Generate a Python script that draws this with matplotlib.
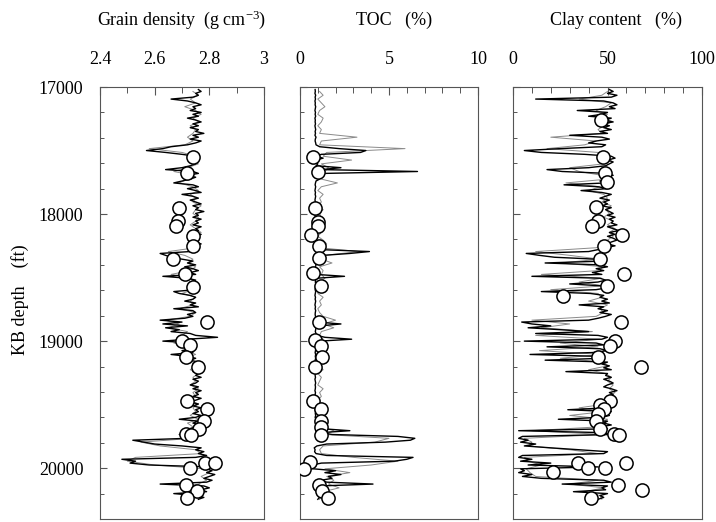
import numpy as np
import matplotlib
matplotlib.use("Agg")
import matplotlib.pyplot as plt
from matplotlib.ticker import MultipleLocator, FixedLocator, FixedFormatter

plt.rcParams['font.family'] = ['Liberation Serif', 'DejaVu Serif']
plt.rcParams['mathtext.fontset'] = 'custom'
plt.rcParams['mathtext.rm'] = 'Liberation Serif'
plt.rcParams['mathtext.default'] = 'regular'

# ---------------- data ----------------
# continuous logs (black), sampled every 15 ft from 17020 ft
log_top = 17020
log_step = 15
grain_log = [
    2.76, 2.77, 2.75, 2.76, 2.74, 2.66, 2.72, 2.75, 2.77, 2.74,
    2.75, 2.73, 2.77, 2.74, 2.76, 2.72, 2.75, 2.77, 2.74, 2.76,
    2.73, 2.76, 2.75, 2.78, 2.74, 2.76, 2.73, 2.77, 2.75, 2.72,
    2.66, 2.63, 2.57, 2.64, 2.70, 2.75, 2.73, 2.76, 2.74, 2.75,
    2.73, 2.70, 2.64, 2.74, 2.76, 2.72, 2.75, 2.73, 2.70, 2.67,
    2.74, 2.76, 2.72, 2.75, 2.77, 2.70, 2.74, 2.76, 2.73, 2.75,
    2.77, 2.74, 2.76, 2.75, 2.78, 2.75, 2.76, 2.74, 2.77, 2.75,
    2.76, 2.74, 2.77, 2.75, 2.76, 2.74, 2.77, 2.75, 2.73, 2.76,
    2.75, 2.77, 2.74, 2.76, 2.75, 2.73, 2.62, 2.64, 2.66, 2.70,
    2.74, 2.72, 2.75, 2.71, 2.74, 2.76, 2.73, 2.75, 2.63, 2.72,
    2.75, 2.73, 2.76, 2.74, 2.72, 2.75, 2.67, 2.69, 2.73, 2.75,
    2.74, 2.71, 2.75, 2.73, 2.76, 2.67, 2.74, 2.75, 2.72, 2.74,
    2.71, 2.62, 2.70, 2.63, 2.72, 2.64, 2.69, 2.66, 2.73, 2.75,
    2.83, 2.72, 2.63, 2.74, 2.71, 2.75, 2.73, 2.70, 2.74, 2.66,
    2.72, 2.75, 2.73, 2.76, 2.74, 2.76, 2.75, 2.77, 2.74, 2.76,
    2.75, 2.77, 2.74, 2.76, 2.75, 2.73, 2.76, 2.74, 2.77, 2.75,
    2.76, 2.74, 2.77, 2.75, 2.73, 2.76, 2.74, 2.77, 2.75, 2.76,
    2.74, 2.77, 2.75, 2.69, 2.76, 2.74, 2.77, 2.75, 2.73, 2.76,
    2.74, 2.69, 2.76, 2.72, 2.52, 2.56, 2.60, 2.70, 2.77, 2.75,
    2.78, 2.76, 2.79, 2.75, 2.48, 2.53, 2.51, 2.58, 2.80, 2.79,
    2.81, 2.79, 2.82, 2.80, 2.78, 2.81, 2.79, 2.62, 2.78, 2.80,
    2.77, 2.79, 2.67, 2.75, 2.78, 2.76,
]
toc_log = [
    0.85, 0.86, 0.84, 0.88, 0.85, 0.87, 0.84, 0.86, 0.85, 0.88,
    0.86, 0.84, 0.87, 0.85, 0.88, 0.84, 0.86, 0.85, 0.87, 0.84,
    0.86, 0.88, 0.85, 0.87, 0.84, 0.90, 0.86, 0.85, 0.88, 0.90,
    1.10, 2.20, 3.70, 3.40, 1.20, 0.90, 1.30, 0.88, 0.86, 1.00,
    0.90, 2.30, 1.20, 6.60, 1.40, 0.95, 0.88, 1.10, 0.90, 0.87,
    0.85, 0.88, 0.86, 0.84, 0.87, 0.85, 0.88, 0.86, 0.84, 0.87,
    0.85, 0.88, 0.86, 0.90, 0.85, 0.87, 0.84, 0.88, 0.86, 0.85,
    0.87, 0.84, 0.88, 0.86, 0.85, 0.87, 0.86, 0.90, 0.85, 0.88,
    0.86, 0.88, 0.85, 0.87, 1.20, 3.90, 2.80, 1.30, 0.95, 0.90,
    0.88, 0.86, 0.90, 0.87, 0.85, 0.88, 0.86, 0.90, 2.50, 0.95,
    0.88, 0.86, 0.90, 1.20, 0.87, 0.85, 0.88, 0.86, 0.84, 0.87,
    0.85, 0.88, 0.86, 0.84, 0.87, 0.85, 0.88, 0.86, 0.85, 0.87,
    0.88, 1.30, 0.95, 2.30, 1.10, 0.90, 0.88, 0.86, 0.90, 0.95,
    1.40, 2.90, 1.10, 0.90, 0.88, 0.86, 0.90, 0.87, 0.85, 0.88,
    0.86, 0.88, 0.85, 0.87, 0.86, 0.84, 0.87, 0.85, 0.88, 0.86,
    0.85, 0.87, 0.84, 0.86, 0.88, 0.85, 0.87, 0.86, 0.84, 0.87,
    0.85, 0.88, 0.86, 0.84, 0.87, 0.85, 0.88, 0.86, 0.85, 0.87,
    0.86, 0.88, 0.85, 0.90, 0.87, 0.95, 0.90, 1.10, 1.30, 2.80,
    1.20, 1.80, 5.50, 6.45, 6.20, 4.80, 1.50, 0.95, 0.80, 0.85,
    0.82, 0.90, 1.50, 6.35, 6.00, 5.30, 1.20, 0.70, 0.60, 0.75,
    2.00, 1.40, 2.30, 1.60, 1.80, 1.20, 1.50, 4.10, 1.10, 0.95,
    1.00, 1.10, 0.95, 1.05, 1.10, 1.00,
]
clay_log = [
    51, 53, 50, 55, 52, 12, 48, 53, 55, 51,
    54, 34, 50, 47, 40, 52, 49, 53, 47, 51,
    48, 52, 46, 50, 30, 47, 51, 44, 40, 49,
    47, 25, 6, 15, 38, 52, 54, 50, 53, 51,
    49, 40, 18, 26, 50, 53, 48, 51, 46, 49,
    27, 45, 50, 36, 47, 52, 49, 46, 51, 48,
    50, 47, 52, 49, 51, 53, 50, 54, 51, 53,
    52, 55, 50, 53, 56, 51, 54, 50, 53, 55,
    52, 50, 54, 49, 45, 40, 7, 14, 22, 44,
    48, 17, 46, 50, 44, 48, 42, 47, 10, 46,
    49, 45, 30, 47, 50, 44, 15, 41, 48, 46,
    50, 47, 51, 35, 48, 45, 50, 46, 52, 49,
    45, 40, 4.6, 10, 20, 8, 25, 40, 12, 45,
    50, 47, 6, 44, 48, 18, 46, 50, 42, 9,
    45, 48, 17, 50, 47, 51, 48, 52, 28, 50,
    49, 52, 48, 51, 53, 50, 48, 52, 55, 51,
    53, 50, 54, 52, 55, 51, 53, 50, 29, 52,
    49, 51, 47, 24, 50, 48, 52, 46, 50, 3,
    47, 52, 5, 3, 8, 4, 12, 6, 20, 35,
    50, 48, 5, 3, 10, 4, 20, 8, 45, 4,
    6, 3, 10, 5, 15, 48, 52, 26, 50, 47,
    49, 32, 50, 46, 48, 45,
]

# second (grey) log curves, sampled every 30 ft from 17035 ft
ref_top = 17035
ref_step = 30
grain_ref = [
    2.74, 2.76, 2.73, 2.75, 2.71, 2.75, 2.77, 2.74, 2.76, 2.73, 2.75, 2.74,
    2.72, 2.74, 2.71, 2.58, 2.70, 2.75, 2.73, 2.76, 2.72, 2.67, 2.74, 2.72,
    2.69, 2.74, 2.76, 2.73, 2.75, 2.74, 2.77, 2.75, 2.74, 2.76, 2.75, 2.73,
    2.75, 2.77, 2.74, 2.76, 2.73, 2.75, 2.65, 2.71, 2.74, 2.72, 2.75, 2.73,
    2.66, 2.73, 2.75, 2.72, 2.74, 2.70, 2.75, 2.73, 2.74, 2.69, 2.75, 2.73,
    2.64, 2.69, 2.65, 2.72, 2.70, 2.73, 2.67, 2.74, 2.72, 2.75, 2.70, 2.74,
    2.75, 2.73, 2.76, 2.74, 2.75, 2.73, 2.76, 2.74, 2.75, 2.73, 2.76, 2.74,
    2.75, 2.73, 2.76, 2.72, 2.74, 2.71, 2.76, 2.74, 2.55, 2.62, 2.75, 2.77,
    2.53, 2.50, 2.60, 2.78, 2.80, 2.77, 2.79, 2.76, 2.70, 2.78, 2.75, 2.74,
]
toc_ref = [
    1.1, 1.3, 1.0, 1.2, 1.4, 1.1, 1.0, 1.3, 1.2, 1.0, 1.2, 1.1,
    3.2, 1.2, 1.1, 5.9, 1.5, 1.3, 2.9, 1.2, 1.6, 1.4, 1.1, 1.2,
    2.1, 1.2, 1.0, 1.3, 1.1, 1.2, 1.0, 1.3, 1.1, 1.2, 1.0, 1.3,
    1.1, 1.2, 1.0, 1.3, 1.5, 1.1, 3.3, 1.4, 1.2, 1.8, 1.1, 1.3,
    1.2, 1.4, 1.1, 1.6, 1.2, 1.0, 1.3, 1.1, 1.2, 1.0, 1.1, 1.3,
    2.0, 1.3, 1.9, 1.2, 1.1, 1.3, 1.0, 1.2, 1.1, 1.3, 1.0, 1.2,
    1.1, 1.3, 1.0, 1.2, 1.1, 1.0, 1.3, 1.1, 1.2, 1.0, 1.1, 1.2,
    1.0, 1.2, 1.1, 1.3, 1.2, 1.9, 1.4, 5.0, 4.2, 1.3, 1.1, 1.2,
    3.0, 5.5, 4.0, 1.4, 2.8, 1.5, 1.9, 1.6, 2.2, 1.3, 1.2, 1.1,
]
clay_ref = [
    50, 47, 35, 52, 49, 44, 50, 46, 52, 48, 45, 47,
    20, 44, 38, 18, 45, 50, 52, 48, 30, 35, 47, 50,
    28, 46, 40, 48, 50, 47, 52, 49, 51, 48, 53, 50,
    54, 51, 53, 50, 48, 44, 12, 30, 46, 25, 48, 45,
    15, 47, 35, 48, 20, 45, 47, 40, 50, 46, 48, 44,
    10, 30, 15, 42, 12, 46, 25, 45, 14, 47, 25, 48,
    50, 40, 49, 52, 50, 53, 51, 54, 50, 52, 49, 35,
    48, 30, 50, 47, 45, 10, 48, 6, 10, 8, 30, 45,
    6, 8, 15, 7, 9, 12, 45, 30, 48, 38, 46, 47,
]

# core measurements (open circles)
core_depth_grain = [17549, 17680, 17950, 18055, 18092, 18171, 18252, 18357, 18472,
                    18572, 18848, 19000, 19031, 19123, 19202, 19472, 19538, 19630,
                    19688, 19732, 19740, 19963, 19963, 19997, 20134, 20181, 20231]
core_grain = [2.741, 2.720, 2.689, 2.687, 2.678, 2.739, 2.741, 2.666, 2.710,
              2.741, 2.793, 2.701, 2.729, 2.715, 2.759, 2.717, 2.790, 2.780,
              2.763, 2.715, 2.732, 2.784, 2.821, 2.729, 2.713, 2.754, 2.720]

core_depth_toc = [17549, 17672, 17950, 18060, 18092, 18165, 18252, 18349, 18467,
                  18567, 18848, 18992, 19037, 19123, 19202, 19472, 19538, 19630,
                  19675, 19735, 19955, 20003, 20134, 20181, 20231]
core_toc = [0.73, 1.01, 0.86, 1.01, 1.01, 0.60, 1.05, 1.05, 0.73,
            1.16, 1.05, 0.86, 1.16, 1.24, 0.86, 0.73, 1.16, 1.20,
            1.20, 1.20, 0.54, 0.22, 1.05, 1.24, 1.57]

core_depth_clay = [17260, 17554, 17675, 17751, 17948, 18055, 18092, 18165, 18249,
                   18354, 18470, 18567, 18643, 18848, 18997, 19037, 19123, 19202,
                   19472, 19504, 19535, 19570, 19627, 19688, 19732, 19740, 19963,
                   19963, 19995, 19995, 20029, 20134, 20173, 20231]
core_clay = [46.6, 47.6, 48.9, 49.6, 43.7, 45.0, 41.8, 57.8, 48.0,
             46.0, 58.9, 49.7, 26.6, 57.0, 54.0, 51.1, 45.0, 67.7,
             51.5, 46.2, 48.3, 45.1, 44.1, 46.0, 53.3, 56.1, 59.8,
             34.2, 39.9, 48.7, 21.0, 55.7, 68.0, 41.3]

titles = ["Grain density  (g cm$^{-3}$)", "TOC   (%)", "Clay content   (%)"]
xlims = [(2.4, 3.0), (0, 10), (0, 100)]
xmajor = [[2.4, 2.6, 2.8, 3.0], [0, 5, 10], [0, 50, 100]]
xmajor_labels = [["2.4", "2.6", "2.8", "3"], ["0", "5", "10"], ["0", "50", "100"]]
xminor = [0.1, 1, 10]
depth_ticks = [17000, 18000, 19000, 20000]
depth_labels = ["17000", "18000", "19000", "20000"]
depth_lim = (20400, 17000)

# ---------------- figure ----------------
W, H = 716, 522
fig = plt.figure(figsize=(W / 100, H / 100), dpi=100)

panel_px = [(100, 264), (300, 478), (513, 702)]
top_px, bot_px = 87, 519
title_x_px = [182, 394, 616]

log_depth = log_top + log_step * np.arange(len(grain_log))
ref_depth = ref_top + ref_step * np.arange(len(grain_ref))

logs = [grain_log, toc_log, clay_log]
refs = [grain_ref, toc_ref, clay_ref]
cores = [(core_grain, core_depth_grain), (core_toc, core_depth_toc), (core_clay, core_depth_clay)]

spine_col = '#555555'
for i, (l, r) in enumerate(panel_px):
    ax = fig.add_axes([l / W, 1 - bot_px / H, (r - l) / W, (bot_px - top_px) / H])
    ax.plot(refs[i], ref_depth, color='#8a8a8a', lw=0.7, zorder=1)
    ax.plot(logs[i], log_depth, color='black', lw=1.0, zorder=2)
    cv, cd = cores[i]
    ax.plot(cv, cd, linestyle='none', marker='o', ms=9.5, mfc='white', mec='black',
            mew=1.1, zorder=3)
    ax.set_xlim(*xlims[i])
    ax.set_ylim(*depth_lim)

    ax.xaxis.tick_top()
    ax.xaxis.set_major_locator(FixedLocator(xmajor[i]))
    ax.xaxis.set_major_formatter(FixedFormatter(xmajor_labels[i]))
    ax.xaxis.set_minor_locator(MultipleLocator(xminor[i]))
    ax.tick_params(axis='x', which='both', direction='in', top=True, bottom=False,
                   labeltop=True, labelbottom=False, labelsize=13, pad=14,
                   color=spine_col)
    ax.tick_params(axis='x', which='major', length=6, width=0.8)
    ax.tick_params(axis='x', which='minor', length=4, width=0.7)

    ax.yaxis.set_major_locator(FixedLocator(depth_ticks))
    ax.yaxis.set_minor_locator(MultipleLocator(200))
    ax.tick_params(axis='y', which='both', direction='in', left=True, right=False,
                   labelsize=13, pad=12, color=spine_col)
    ax.tick_params(axis='y', which='major', length=5, width=0.8)
    ax.tick_params(axis='y', which='minor', length=3, width=0.7)
    if i == 0:
        ax.yaxis.set_major_formatter(FixedFormatter(depth_labels))
    else:
        ax.tick_params(axis='y', which='both', labelleft=False)

    for s in ax.spines.values():
        s.set_color(spine_col)
        s.set_linewidth(0.8)

    fig.text(title_x_px[i] / W, 1 - 20 / H, titles[i], ha='center', va='center',
             fontsize=13)

fig.text(20 / W, 1 - 300 / H, "KB depth    (ft)", rotation=90, ha='center',
         va='center', fontsize=13)

fig.savefig("out.png", dpi=100)
